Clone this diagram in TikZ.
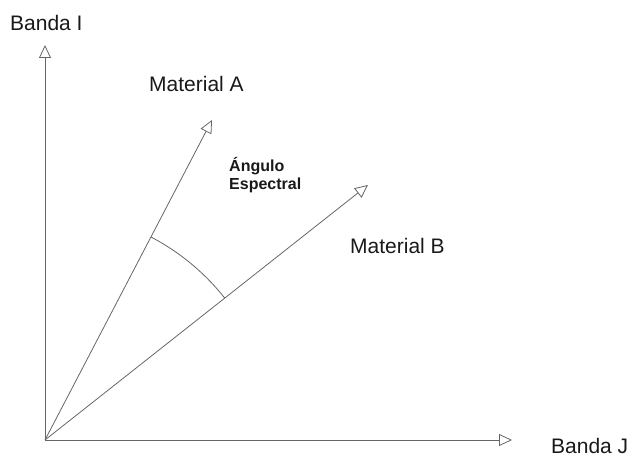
\documentclass[tikz,border=0pt]{standalone}
\usepackage{fontspec}
\setmainfont{Liberation Sans}
\usetikzlibrary{arrows.meta}
\tikzset{
  axisline/.style={draw=black!60, line width=0.8pt, -{Triangle[open, length=13pt, width=12pt, fill=white]}},
  arcline/.style={draw=black!60, line width=0.8pt},
  lbl/.style={anchor=base west, inner sep=0pt, font=\fontsize{21}{25}\selectfont, text=black!90},
  smalllbl/.style={anchor=base west, inner sep=0pt, font=\fontsize{16}{18}\selectfont\bfseries, text=black!90, align=left}
}
\begin{document}
\begin{tikzpicture}[x=1pt,y=1pt]
\useasboundingbox (0,0) rectangle (630,456);
\coordinate (O) at (45,16);
\coordinate (ytip) at (45,411);
\coordinate (xtip) at (512,16);
\coordinate (atip) at (212,336);
\coordinate (btip) at (368,271);
\draw[axisline] (O) -- (ytip);
\draw[axisline] (O) -- (xtip);
\draw[axisline] (O) -- (atip);
\draw[axisline] (O) -- (btip);
\draw[arcline] (O) ++(62.4:229) arc[start angle=62.4, end angle=38.3, radius=229];
\node[lbl] (bandai) at (10,425) {Banda I};
\node[lbl] (banadaj) at (551,3) {Banda J};
\node[lbl] (mata) at (149,364) {Material A};
\node[lbl] (matb) at (350,202) {Material B};
\node[smalllbl] (ang) at (229,266) {Ángulo\\Espectral};
\end{tikzpicture}
\end{document}
